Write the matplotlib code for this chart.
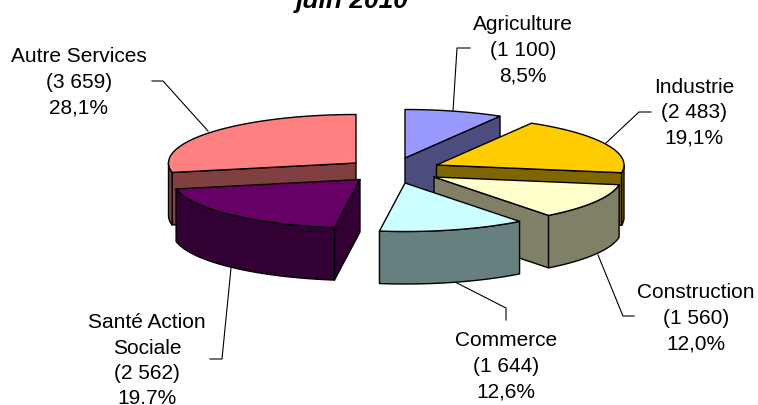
"""Exploded 3D-style pie, juin 2010."""

import numpy as np
import matplotlib

matplotlib.use("Agg")
import matplotlib.pyplot as plt
from matplotlib.patches import Polygon

categories = ["Agriculture", "Industrie", "Construction", "Commerce", "Santé Action\nSociale", "Autre Services"]
values = [1100, 2483, 1560, 1644, 2562, 3659]
amounts = ["(1 100)", "(2 483)", "(1 560)", "(1 644)", "(2 562)", "(3 659)"]
percents = ["8,5%", "19,1%", "12,0%", "12,6%", "19.7%", "28,1%"]
title = "juin 2010"

top_colors = ["#9999FF", "#FFCC00", "#FFFFCC", "#CCFFFF", "#660066", "#FF8080"]
wall_colors = ["#4D4D80", "#806600", "#808066", "#668080", "#330033", "#804040"]

# apex of each exploded slice, in picture pixels
apex = [(405, 158), (436.5, 165), (434, 177), (405, 183), (360, 179.5), (356, 163)]
# first baseline and centre of each label
label_pos = [(523, 30), (694, 93), (696, 298), (506, 346), (147, 328), (79, 62)]
leaders = [
    [(470, 48), (457, 48), (453, 111)],
    [(651, 112), (639, 112), (606, 143)],
    [(598, 255), (623, 316), (634, 316)],
    [(455, 282), (506, 308), (506, 320)],
    [(231, 268), (222, 359), (210, 359)],
    [(152, 81), (163, 81), (208, 131)],
]
RX, RY, DEPTH = 187.5, 48.5, 52.5
LINE_H = 25.5
draw_order = [5, 0, 1, 2, 4, 3]


def rim(center, a0, a1, drop=0.0):
    t = np.radians(np.linspace(a0, a1, 60))
    return np.column_stack([center[0] + RX * np.sin(t), center[1] - RY * np.cos(t) + drop])


def draw_slice(ax, center, a0, a1, top, wall):
    kw = dict(edgecolor="black", linewidth=1.0, joinstyle="round")
    cx, cy = center
    # radial walls that face the viewer
    if np.sin(np.radians(a0)) < -1e-6:
        p = rim(center, a0, a0, 0)[0]
        ax.add_patch(Polygon([(cx, cy), p, p + (0, DEPTH), (cx, cy + DEPTH)], facecolor=wall, **kw))
    if np.sin(np.radians(a1)) > 1e-6:
        p = rim(center, a1, a1, 0)[0]
        ax.add_patch(Polygon([(cx, cy), p, p + (0, DEPTH), (cx, cy + DEPTH)], facecolor=wall, **kw))
    # outer wall, front half of the ellipse only
    lo, hi = max(a0, 90), min(a1, 270)
    if hi > lo:
        upper = rim(center, lo, hi)
        lower = rim(center, hi, lo, DEPTH)
        ax.add_patch(Polygon(np.vstack([upper, lower]), facecolor=wall, **kw))
    ax.add_patch(Polygon(np.vstack([[center], rim(center, a0, a1)]), facecolor=top, **kw))


edges = np.concatenate([[0], np.cumsum(values)]) / np.sum(values) * 360

fig = plt.figure(figsize=(7.58, 4.05), dpi=100)
ax = fig.add_axes([0, 0, 1, 1])
ax.set_xlim(0, 758)
ax.set_ylim(405, 0)
ax.axis("off")

for line in leaders:
    xs, ys = zip(*line)
    ax.plot(xs, ys, color="black", linewidth=0.8, zorder=1)

for i in draw_order:
    draw_slice(ax, apex[i], edges[i], edges[i + 1], top_colors[i], wall_colors[i])

font = ["Liberation Sans", "DejaVu Sans"]
for i, name in enumerate(categories):
    lines = name.split("\n") + [amounts[i], percents[i]]
    x, y = label_pos[i]
    for k, txt in enumerate(lines):
        ax.text(x, y + k * LINE_H, txt, ha="center", va="baseline", fontsize=15, family=font, color="black")

ax.text(352, 8, title, ha="center", va="baseline", fontsize=19, family=font,
        fontweight="bold", fontstyle="italic", color="black")

fig.savefig("out.png", dpi=100)
plt.close(fig)
